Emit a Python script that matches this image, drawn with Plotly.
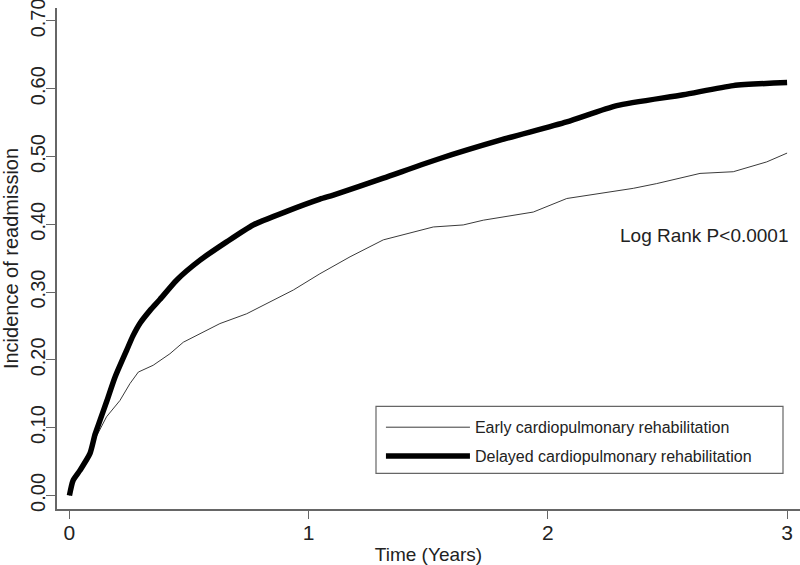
import plotly.graph_objects as go

# ---- data ----
early_t = [0, 0.015, 0.044, 0.08, 0.114, 0.155, 0.211, 0.253, 0.288, 0.35, 0.42, 0.476,
           0.546, 0.629, 0.741, 0.824, 0.936, 1.047, 1.173, 1.312, 1.521, 1.646, 1.73,
           1.939, 2.079, 2.357, 2.455, 2.636, 2.775, 2.915, 3.0]
early_y = [0, 0.018, 0.033, 0.06, 0.088, 0.116, 0.14, 0.165, 0.182, 0.192, 0.209, 0.226,
           0.239, 0.2535, 0.268, 0.283, 0.303, 0.327, 0.352, 0.377, 0.396, 0.399, 0.406,
           0.418, 0.438, 0.453, 0.46, 0.475, 0.4775, 0.492, 0.505]

delayed_t = [0, 0.015, 0.044, 0.086, 0.107, 0.128, 0.157, 0.19, 0.239, 0.265, 0.295, 0.337,
             0.378, 0.448, 0.546, 0.657, 0.768, 0.908, 1.047, 1.103, 1.312, 1.549, 1.8,
             2.079, 2.288, 2.566, 2.775, 3.0]
delayed_y = [0, 0.022, 0.037, 0.062, 0.09, 0.111, 0.14, 0.174, 0.214, 0.235, 0.254, 0.273,
             0.289, 0.3175, 0.347, 0.374, 0.399, 0.419, 0.437, 0.443, 0.468, 0.497, 0.524,
             0.551, 0.575, 0.591, 0.6045, 0.609]

x_ticks = [0, 1, 2, 3]
y_ticks = [0.0, 0.1, 0.2, 0.3, 0.4, 0.5, 0.6, 0.7]
y_tick_labels = ["%.2f" % v for v in y_ticks]

series_names = ["Early cardiopulmonary rehabilitation", "Delayed cardiopulmonary rehabilitation"]
annotation_text = "Log Rank P<0.0001"

FONT = "Liberation Sans, Arial, sans-serif"

fig = go.Figure()
fig.add_trace(go.Scatter(x=early_t, y=early_y, mode="lines", name=series_names[0],
                         line=dict(color="#3a3a3a", width=1), legendgroup="a"))
fig.add_trace(go.Scatter(x=delayed_t, y=delayed_y, mode="lines", name=series_names[1],
                         line=dict(color="#000000", width=5.5, shape="spline", smoothing=0.6),
                         legendgroup="b"))

fig.update_layout(
    width=800, height=565,
    margin=dict(l=57, r=0, t=8, b=56, autoexpand=False),
    paper_bgcolor="white", plot_bgcolor="white",
    font=dict(family=FONT, color="#222222"),
    showlegend=True,
    legend=dict(x=0.436, y=0.197, xanchor="left", yanchor="top",
                bgcolor="rgba(0,0,0,0)", borderwidth=0,
                font=dict(size=16, family=FONT, color="#222222"),
                itemwidth=84, tracegroupgap=5, traceorder="grouped"),
    shapes=[dict(type="rect", xref="paper", yref="paper",
                 x0=(376 - 57) / 743, x1=(783 - 57) / 743,
                 y0=(508.5 - 473) / 500.5, y1=(508.5 - 406) / 500.5,
                 line=dict(color="#666666", width=1.2), fillcolor="rgba(0,0,0,0)")],
    annotations=[dict(x=3.015, y=0.384, xref="x", yref="y", text=annotation_text,
                      showarrow=False, xanchor="right", yanchor="middle",
                      font=dict(size=19, family=FONT, color="#222222"))],
)

fig.update_xaxes(range=[-0.052, 3.054], tickvals=x_ticks, ticktext=[str(v) for v in x_ticks],
                 showgrid=False, zeroline=False, showline=True, linecolor="#666666", linewidth=1.5,
                 ticks="outside", ticklen=8, tickcolor="#666666", tickwidth=1.2,
                 ticklabelstandoff=-4, ticklabeloverflow="allow",
                 tickfont=dict(size=21, family=FONT, color="#222222"),
                 title=dict(text="Time (Years)", font=dict(size=19, family=FONT, color="#222222"), standoff=6))
fig.update_yaxes(range=[-0.02, 0.719], tickvals=y_ticks, ticktext=y_tick_labels, tickangle=-90,
                 showgrid=False, zeroline=False, showline=True, linecolor="#666666", linewidth=1.5,
                 ticks="outside", ticklen=9, tickcolor="#666666", tickwidth=1.2,
                 ticklabelstandoff=-7, ticklabeloverflow="allow",
                 tickfont=dict(size=20, family=FONT, color="#222222"),
                 title=dict(text="Incidence of readmission", font=dict(size=20, family=FONT, color="#222222"), standoff=9))

fig.write_html("out.html", config={"displayModeBar": False},
               post_script="document.body.style.margin='0px';document.body.style.overflow='hidden';")
